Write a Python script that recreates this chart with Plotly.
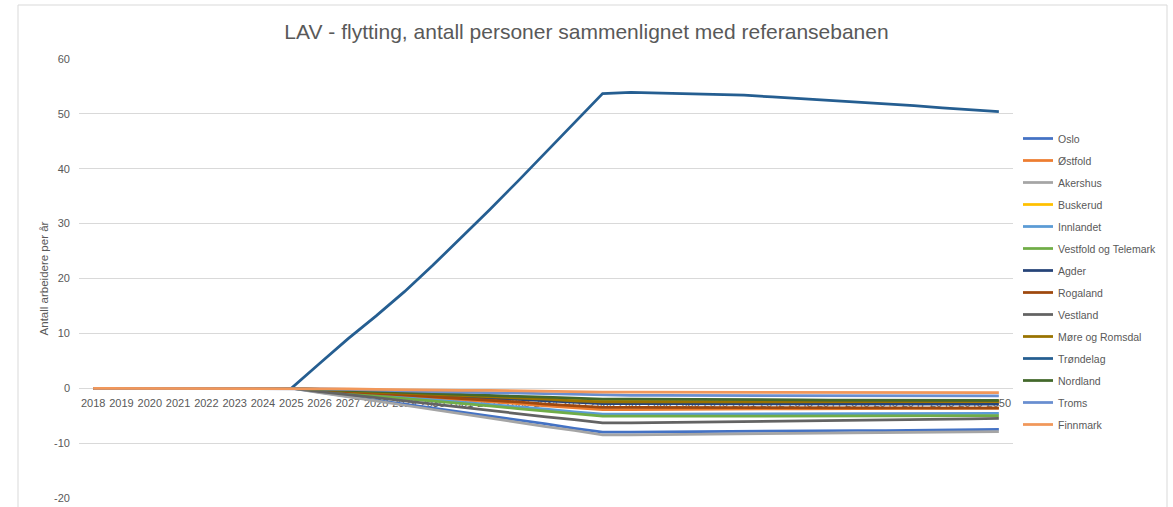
import plotly.graph_objects as go

years = list(range(2018, 2051))

series_names = ["Oslo", "Østfold", "Akershus", "Buskerud", "Innlandet",
                "Vestfold og Telemark", "Agder", "Rogaland", "Vestland",
                "Møre og Romsdal", "Trøndelag", "Nordland", "Troms", "Finnmark"]

colors = ["#4472C4", "#ED7D31", "#A5A5A5", "#FFC000", "#5B9BD5", "#70AD47",
          "#264478", "#9E480E", "#636363", "#997300", "#255E91", "#43682B",
          "#698ED0", "#F1975A"]

Z = [0, 0, 0, 0, 0, 0, 0, 0]

oslo = Z + [-0.7, -1.5, -2.2, -2.9, -3.6, -4.4, -5.1, -5.8, -6.5, -7.3, -8.0,
            -8.0, -7.95, -7.9, -7.9, -7.85, -7.8, -7.8, -7.75, -7.7, -7.7, -7.65, -7.6, -7.55, -7.5]
ostfold = Z + [-0.4, -0.7, -1.1, -1.4, -1.8, -2.1, -2.5, -2.8, -3.2, -3.5, -3.9,
               -3.9, -3.85, -3.85, -3.8, -3.8, -3.75, -3.75, -3.7, -3.7, -3.7, -3.65, -3.65, -3.6, -3.6]
akershus = Z + [-0.8, -1.5, -2.3, -3.1, -3.9, -4.6, -5.4, -6.2, -7.0, -7.7, -8.5,
                -8.5, -8.45, -8.4, -8.35, -8.3, -8.3, -8.25, -8.2, -8.15, -8.1, -8.05, -8.0, -7.95, -7.9]
buskerud = Z + [-0.2, -0.4, -0.7, -0.9, -1.1, -1.3, -1.5, -1.7, -2.0, -2.2, -2.4,
                -2.4, -2.4, -2.45, -2.45, -2.45, -2.5, -2.5, -2.5, -2.55, -2.55, -2.55, -2.6, -2.6, -2.6]
innlandet = Z + [-0.4, -0.9, -1.3, -1.7, -2.1, -2.6, -3.0, -3.4, -3.8, -4.3, -4.7,
                 -4.7, -4.7, -4.7, -4.7, -4.65, -4.65, -4.65, -4.6, -4.6, -4.6, -4.6, -4.6, -4.6, -4.6]
vestfold = Z + [-0.5, -0.9, -1.4, -1.9, -2.3, -2.8, -3.2, -3.7, -4.2, -4.6, -5.1,
                -5.1, -5.1, -5.1, -5.05, -5.05, -5.05, -5.0, -5.0, -5.0, -5.0, -5.0, -5.0, -5.0, -5.0]
agder = Z + [-0.25, -0.5, -0.8, -1.0, -1.3, -1.5, -1.8, -2.0, -2.3, -2.5, -2.8,
             -2.8, -2.8, -2.8, -2.85, -2.85, -2.85, -2.85, -2.9, -2.9, -2.9, -2.9, -2.9, -2.9, -2.9]
rogaland = Z + [-0.3, -0.6, -1.0, -1.3, -1.6, -1.9, -2.2, -2.5, -2.9, -3.2, -3.5,
                -3.5, -3.5, -3.5, -3.55, -3.55, -3.55, -3.55, -3.6, -3.6, -3.6, -3.6, -3.6, -3.6, -3.6]
vestland = Z + [-0.6, -1.1, -1.7, -2.3, -2.9, -3.4, -4.0, -4.6, -5.2, -5.7, -6.3,
                -6.3, -6.25, -6.2, -6.15, -6.1, -6.05, -6.0, -5.95, -5.85, -5.8, -5.7, -5.65, -5.6, -5.5]
more = Z + [-0.2, -0.5, -0.7, -0.9, -1.1, -1.4, -1.6, -1.8, -2.0, -2.3, -2.5,
            -2.5, -2.5, -2.5, -2.5, -2.5, -2.45, -2.45, -2.45, -2.45, -2.45, -2.4, -2.4, -2.4, -2.4]
trondelag = Z + [4.5, 9.0, 13.2, 17.6, 22.4, 27.4, 32.5, 37.7, 43.0, 48.3, 53.7,
                 53.9, 53.8, 53.7, 53.6, 53.4, 53.1, 52.8, 52.5, 52.2, 51.9, 51.5, 51.1, 50.8, 50.4]
nordland = Z + [-0.2, -0.4, -0.5, -0.7, -0.9, -1.1, -1.3, -1.5, -1.6, -1.8, -2.0,
                -2.0, -2.0, -2.05, -2.05, -2.1, -2.1, -2.1, -2.15, -2.15, -2.15, -2.2, -2.2, -2.2, -2.2]
troms = Z + [-0.1, -0.2, -0.4, -0.5, -0.6, -0.7, -0.8, -0.9, -1.1, -1.2, -1.3,
             -1.3, -1.3, -1.3, -1.3, -1.3, -1.35, -1.35, -1.35, -1.35, -1.4, -1.4, -1.4, -1.4, -1.4]
finnmark = Z + [-0.1, -0.1, -0.2, -0.3, -0.3, -0.4, -0.4, -0.5, -0.6, -0.6, -0.7,
                -0.7, -0.7, -0.7, -0.7, -0.75, -0.75, -0.75, -0.75, -0.75, -0.8, -0.8, -0.8, -0.8, -0.8]

values = [oslo, ostfold, akershus, buskerud, innlandet, vestfold, agder,
          rogaland, vestland, more, trondelag, nordland, troms, finnmark]

y_ticks = [-20, -10, 0, 10, 20, 30, 40, 50, 60]
y_ticktext = ["-20", "-10", "0", "10", "20", "30", "40", "50", "60"]

FONT = "Liberation Sans"
TXT = "#595959"
GRID = "#D9D9D9"

W, H = 1173, 507
ML, MR, MT, MB = 79, 160, 59, 9

fig = go.Figure()
for name, col, vals in zip(series_names, colors, values):
    fig.add_trace(go.Scatter(x=years, y=vals, name=name, mode="lines",
                             line=dict(color=col, width=2.75),
                             legendgroup=name))

ymin, ymax = -20, 60
zero_pos = (0 - ymin) / (ymax - ymin)

pw = W - ML - MR
ph = H - MT - MB

fig.update_layout(
    width=W, height=H,
    margin=dict(l=ML, r=MR, t=MT, b=MB, autoexpand=False),
    paper_bgcolor="white", plot_bgcolor="white",
    font=dict(family=FONT, color=TXT, size=11),
    title=dict(text="LAV - flytting, antall personer sammenlignet med referansebanen",
               x=0.5, xref="container", xanchor="center",
               y=1 - 32 / H, yref="container", yanchor="middle",
               font=dict(size=21, color=TXT, family=FONT)),
    xaxis=dict(range=[2017.5, 2050.5], tickmode="array", tickvals=years,
               ticktext=[str(y) for y in years], showgrid=False,
               anchor="free", position=zero_pos, side="bottom",
               showline=False, zeroline=False, ticks="", ticklen=0,
               tickfont=dict(size=11, color=TXT), layer="below traces",
               tickangle=0, automargin=False, ticklabelstandoff=7),
    yaxis=dict(range=[ymin, ymax], tickmode="array", tickvals=y_ticks,
               ticktext=y_ticktext, showgrid=True,
               gridcolor=GRID, gridwidth=1, zeroline=True, zerolinecolor=GRID,
               zerolinewidth=1, showline=False, ticks="", automargin=False,
               tickfont=dict(size=11, color=TXT), ticklabelstandoff=8,
               title=dict(text="Antall arbeidere per år", font=dict(size=11.5, color=TXT),
                          standoff=3)),
    legend=dict(xref="paper", yref="paper", x=(1018 - ML) / pw,
                y=(H - MB - 124) / ph,
                xanchor="left", yanchor="top", font=dict(size=10.5, color=TXT),
                tracegroupgap=3, itemwidth=30, bgcolor="rgba(0,0,0,0)",
                maxheight=600),
    showlegend=True,
)

# chart border
fig.add_shape(type="rect", xref="paper", yref="paper",
              x0=(18 - ML) / pw, x1=(1167 - ML) / pw,
              y0=(H - MB - 530) / ph, y1=(H - MB - 5) / ph,
              line=dict(color=GRID, width=1), fillcolor="rgba(0,0,0,0)", layer="below")

fig.write_html("out.html", config={"displayModeBar": False},
               post_script="document.body.style.margin='0';")
